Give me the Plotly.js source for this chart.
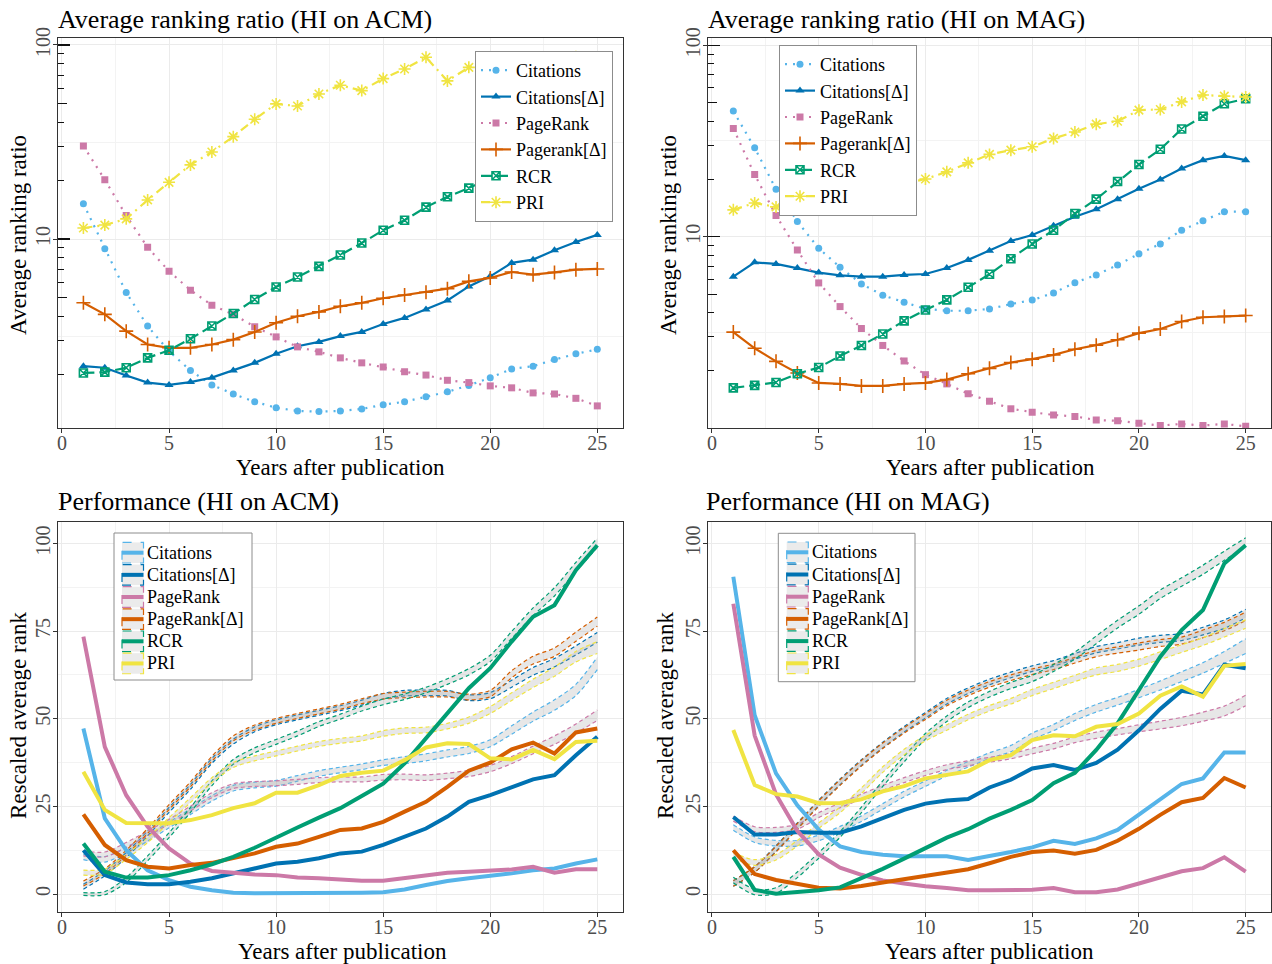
<!DOCTYPE html>
<html>
<head>
<meta charset="utf-8">
<script src="https://cdn.plot.ly/plotly-3.0.1.min.js"></script>
<style>
  html, body { margin: 0; padding: 0; background: #fff; }
  #chart { width: 1272px; height: 964px; }
</style>
</head>
<body>
<div id="chart"></div>
<script>
// ---------------------------------------------------------------
// Data
// ---------------------------------------------------------------
const years = [1,2,3,4,5,6,7,8,9,10,11,12,13,14,15,16,17,18,19,20,21,22,23,24,25];

const ratioNames = ['Citations', 'Citations[Δ]', 'PageRank', 'Pagerank[Δ]', 'RCR', 'PRI'];
const perfNames  = ['Citations', 'Citations[Δ]', 'PageRank', 'PageRank[Δ]', 'RCR', 'PRI'];

// Average ranking ratio, HI on ACM
const acmRatioCitations  = [15.2, 8.9, 5.3, 3.56, 2.64, 2.10, 1.77, 1.59, 1.45, 1.35, 1.30, 1.29, 1.30, 1.33, 1.40, 1.45, 1.54, 1.63, 1.76, 1.93, 2.14, 2.21, 2.39, 2.56, 2.70];
const acmRatioCitationsD = [2.21, 2.17, 1.98, 1.82, 1.77, 1.83, 1.93, 2.10, 2.30, 2.56, 2.80, 2.95, 3.16, 3.32, 3.65, 3.92, 4.33, 4.82, 5.70, 6.42, 7.53, 7.83, 8.75, 9.66, 10.5];
const acmRatioPageRank   = [30.2, 20.2, 13.2, 9.06, 6.82, 5.45, 4.56, 4.09, 3.53, 3.13, 2.78, 2.62, 2.44, 2.30, 2.19, 2.07, 1.99, 1.87, 1.82, 1.75, 1.71, 1.61, 1.59, 1.51, 1.38];
const acmRatioPageRankD  = [4.69, 4.09, 3.35, 2.86, 2.75, 2.75, 2.86, 3.03, 3.32, 3.70, 4.00, 4.21, 4.50, 4.69, 4.95, 5.15, 5.32, 5.55, 6.05, 6.30, 6.76, 6.55, 6.73, 6.95, 7.01];
const acmRatioRCR        = [2.04, 2.06, 2.17, 2.44, 2.67, 3.06, 3.56, 4.13, 4.88, 5.66, 6.37, 7.23, 8.27, 9.53, 11.1, 12.5, 14.6, 16.5, 18.3, 20.6, 23.2, 26.0, 29.1, 32.8, 36.5];
const acmRatioPRI        = [11.4, 11.8, 12.7, 15.9, 19.6, 24.1, 28.1, 33.7, 41.4, 49.7, 48.5, 55.9, 62.0, 58.2, 67.1, 75.2, 86.4, 65.3, 76.7, 80.5, 83.6, 86.0, 82.4, 87.0, 85.1];

// Average ranking ratio, HI on MAG
const magRatioCitations  = [45.3, 29.1, 17.7, 12.0, 8.69, 6.92, 5.66, 4.94, 4.54, 4.19, 4.10, 4.10, 4.19, 4.44, 4.66, 5.08, 5.75, 6.31, 7.11, 8.13, 9.16, 10.8, 12.1, 13.5, 13.5];
const magRatioCitationsD = [6.18, 7.34, 7.20, 6.86, 6.49, 6.28, 6.18, 6.18, 6.31, 6.38, 6.86, 7.56, 8.45, 9.49, 10.2, 11.4, 12.7, 13.9, 15.7, 17.8, 19.9, 22.7, 25.1, 26.4, 25.1];
const magRatioPageRank   = [36.7, 21.1, 12.9, 8.51, 5.73, 4.31, 3.31, 2.70, 2.24, 1.90, 1.70, 1.51, 1.38, 1.26, 1.21, 1.17, 1.15, 1.10, 1.09, 1.06, 1.03, 1.05, 1.03, 1.05, 1.02];
const magRatioPageRankD  = [3.17, 2.61, 2.23, 1.94, 1.72, 1.70, 1.66, 1.66, 1.70, 1.72, 1.79, 1.92, 2.05, 2.20, 2.29, 2.41, 2.58, 2.71, 2.89, 3.13, 3.29, 3.60, 3.79, 3.83, 3.87];
const magRatioRCR        = [1.62, 1.67, 1.73, 1.92, 2.07, 2.38, 2.70, 3.10, 3.63, 4.14, 4.67, 5.44, 6.36, 7.67, 9.16, 10.8, 13.2, 15.7, 19.4, 23.8, 28.6, 36.5, 42.6, 49.5, 52.5];
const magRatioPRI        = [13.8, 15.0, 14.3, 15.4, 15.9, 17.0, 17.4, 17.9, 18.9, 20.0, 21.8, 24.3, 26.9, 28.3, 29.5, 32.6, 35.2, 38.7, 40.1, 45.8, 46.2, 50.6, 55.0, 54.2, 53.7];

// Rescaled average rank, HI on ACM (observed)
const acmPerfCitations  = [47.2, 21.6, 12.5, 6.8, 4.0, 2.1, 1.1, 0.4, 0.2, 0.2, 0.2, 0.2, 0.2, 0.4, 0.5, 1.3, 2.6, 3.7, 4.5, 5.1, 5.9, 6.8, 7.3, 8.7, 9.9];
const acmPerfCitationsD = [12.5, 5.4, 3.3, 2.8, 2.8, 3.5, 4.5, 5.9, 7.3, 8.7, 9.2, 10.2, 11.6, 12.1, 14.0, 16.2, 18.7, 22.1, 26.3, 28.2, 30.6, 32.7, 33.9, 39.6, 44.9];
const acmPerfPageRank   = [73.4, 42.0, 28.2, 19.2, 13.0, 8.7, 6.6, 6.0, 5.6, 5.4, 4.7, 4.5, 4.2, 3.8, 3.8, 4.5, 5.4, 6.1, 6.4, 6.7, 7.0, 7.8, 6.1, 7.1, 7.1];
const acmPerfPageRankD  = [22.7, 14.0, 9.7, 7.8, 7.3, 8.3, 8.9, 10.2, 11.6, 13.5, 14.4, 16.3, 18.3, 18.7, 20.6, 23.5, 26.3, 30.6, 35.2, 37.5, 41.3, 43.2, 40.1, 46.1, 47.2];
const acmPerfRCR        = [14.4, 6.4, 4.7, 4.7, 5.4, 6.8, 8.5, 10.6, 13.2, 16.2, 19.0, 21.8, 24.5, 28.0, 31.5, 37.3, 44.4, 51.5, 58.7, 64.4, 72.0, 79.1, 82.4, 92.4, 99.5];
const acmPerfPRI        = [34.9, 24.0, 20.3, 20.2, 20.2, 21.1, 22.5, 24.5, 25.9, 28.9, 28.9, 31.1, 33.7, 34.6, 35.2, 38.2, 41.8, 43.0, 42.8, 38.7, 38.4, 41.1, 38.5, 43.4, 43.7];

// Rescaled average rank, HI on ACM (null-model band, lower / upper)
const acmBandCitationsLo  = [9.8, 9.1, 11.7, 15.1, 18.9, 22.7, 26.5, 29.4, 30.3, 30.8, 32.2, 33.6, 34.6, 35.5, 36.7, 37.2, 38.0, 39.1, 40.1, 42.0, 45.6, 49.3, 52.4, 56.6, 64.0];
const acmBandCitationsHi  = [11.4, 10.7, 13.3, 16.7, 20.5, 24.3, 28.1, 31.0, 31.9, 32.4, 33.8, 35.2, 36.2, 37.1, 38.3, 39.2, 40.0, 41.1, 42.1, 44.0, 48.0, 51.9, 55.4, 59.8, 67.6];
const acmBandCitationsDLo = [1.4, 5.2, 10.4, 16.6, 23.3, 29.9, 37.3, 42.8, 46.3, 48.3, 49.7, 51.0, 52.3, 53.9, 55.6, 56.5, 56.6, 56.5, 55.2, 55.7, 59.0, 62.4, 64.8, 68.2, 71.8];
const acmBandCitationsDHi = [2.8, 6.6, 11.8, 18.0, 24.7, 31.3, 38.7, 44.2, 47.7, 49.7, 51.1, 52.4, 53.7, 55.3, 57.2, 58.1, 58.2, 58.1, 56.8, 57.5, 61.0, 64.6, 67.2, 70.8, 74.6];
const acmBandPageRankLo   = [10.9, 10.6, 13.3, 16.6, 19.9, 23.7, 27.5, 30.1, 30.7, 30.9, 31.3, 31.8, 32.0, 32.0, 32.5, 32.6, 32.4, 32.9, 33.5, 34.9, 37.2, 40.0, 42.7, 45.9, 49.5];
const acmBandPageRankHi   = [12.3, 12.0, 14.7, 18.0, 21.3, 25.1, 28.9, 31.5, 32.1, 32.3, 32.7, 33.2, 33.4, 33.4, 34.1, 34.2, 34.0, 34.5, 35.3, 36.7, 39.2, 42.2, 45.1, 48.5, 52.5];
const acmBandPageRankDLo  = [2.3, 5.8, 11.1, 17.3, 24.1, 30.6, 37.9, 43.7, 46.8, 48.7, 50.1, 51.4, 52.7, 54.3, 55.6, 56.0, 56.2, 56.2, 55.4, 56.3, 61.7, 65.6, 67.8, 72.1, 76.4];
const acmBandPageRankDHi  = [3.7, 7.2, 12.5, 18.7, 25.5, 32.0, 39.3, 45.1, 48.2, 50.1, 51.5, 52.8, 54.1, 55.7, 57.2, 57.6, 57.8, 57.8, 57.0, 58.1, 63.7, 67.8, 70.2, 74.7, 79.0];
const acmBandRCRLo        = [-0.4, -0.2, 3.3, 9.5, 16.1, 23.3, 30.9, 37.0, 40.3, 42.7, 45.1, 47.8, 49.9, 52.2, 54.0, 55.5, 57.4, 59.8, 62.5, 66.3, 72.9, 79.4, 85.0, 92.0, 98.9];
const acmBandRCRHi        = [0.4, 0.7, 4.7, 10.9, 17.5, 24.7, 32.3, 38.4, 41.7, 44.1, 46.5, 49.2, 51.3, 53.6, 55.6, 57.1, 59.0, 61.4, 64.3, 68.1, 74.9, 81.6, 87.4, 94.6, 101.5];
const acmBandPRILo        = [5.4, 5.7, 9.9, 14.7, 20.4, 26.1, 31.8, 36.1, 38.0, 39.4, 40.8, 42.1, 43.0, 43.7, 45.0, 45.8, 46.0, 47.1, 48.7, 51.5, 55.2, 58.9, 62.1, 66.2, 68.6];
const acmBandPRIHi        = [6.8, 7.1, 11.3, 16.1, 21.8, 27.5, 33.2, 37.5, 39.4, 40.8, 42.2, 43.5, 44.4, 45.1, 46.6, 47.4, 47.6, 48.7, 50.5, 53.5, 57.4, 61.3, 64.7, 69.2, 72.0];

// Rescaled average rank, HI on MAG (observed)
const magPerfCitations  = [90.5, 51.0, 34.4, 25.3, 18.4, 13.6, 12.0, 11.2, 10.8, 10.8, 10.8, 9.7, 10.8, 12.0, 13.3, 15.2, 14.3, 15.9, 18.3, 22.6, 26.8, 31.4, 33.0, 40.4, 40.4];
const magPerfCitationsD = [22.0, 17.0, 17.0, 17.7, 17.5, 17.5, 19.3, 21.6, 24.0, 25.8, 26.7, 27.1, 30.4, 32.6, 35.8, 36.8, 35.4, 37.4, 41.2, 46.7, 52.8, 58.0, 56.9, 65.4, 64.4];
const magPerfPageRank   = [82.8, 45.2, 28.4, 18.0, 11.3, 7.5, 5.5, 3.9, 3.0, 2.2, 1.7, 1.1, 1.1, 1.1, 1.2, 1.7, 0.5, 0.5, 1.3, 3.0, 4.7, 6.5, 7.4, 10.5, 6.4];
const magPerfPageRankD  = [12.5, 5.7, 4.0, 3.0, 1.8, 1.6, 2.3, 3.3, 4.3, 5.2, 6.2, 7.1, 8.8, 10.6, 12.0, 12.4, 11.5, 12.6, 15.2, 18.6, 22.6, 26.2, 27.4, 33.1, 30.4];
const magPerfRCR        = [10.6, 1.2, 0.1, 0.6, 1.1, 1.9, 4.4, 7.2, 10.1, 13.1, 16.1, 18.5, 21.5, 24.0, 26.8, 31.6, 34.6, 41.1, 48.7, 58.2, 67.7, 75.3, 81.0, 94.3, 99.5];
const magPerfPRI        = [46.8, 31.1, 28.5, 27.8, 25.9, 26.0, 27.0, 29.3, 30.8, 33.0, 34.0, 35.0, 38.2, 39.6, 43.9, 45.3, 45.0, 47.7, 48.5, 51.5, 56.6, 59.2, 56.3, 65.1, 65.6];

// Rescaled average rank, HI on MAG (null-model band, lower / upper)
const magBandCitationsLo  = [18.2, 14.7, 13.7, 13.7, 15.2, 17.7, 20.7, 24.2, 27.7, 30.7, 33.7, 36.2, 38.7, 40.6, 44.1, 46.6, 49.5, 51.9, 53.9, 56.0, 58.2, 60.6, 63.0, 65.8, 68.6];
const magBandCitationsHi  = [19.8, 16.3, 15.3, 15.3, 16.8, 19.3, 22.3, 25.8, 29.3, 32.3, 35.3, 37.8, 40.3, 42.4, 45.9, 48.4, 51.5, 54.1, 56.1, 58.4, 60.8, 63.4, 66.0, 69.2, 72.8];
const magBandCitationsDLo = [2.2, 6.2, 12.2, 18.7, 25.2, 31.2, 36.7, 41.7, 46.2, 50.2, 54.2, 57.2, 59.7, 61.7, 63.5, 65.0, 67.0, 68.8, 69.9, 71.0, 71.8, 72.3, 73.9, 75.8, 78.8];
const magBandCitationsDHi = [3.8, 7.8, 13.8, 20.3, 26.8, 32.8, 38.3, 43.3, 47.8, 51.8, 55.8, 58.8, 61.3, 63.3, 65.1, 66.6, 68.6, 70.6, 71.7, 73.0, 73.8, 74.3, 76.1, 78.2, 81.2];
const magBandPageRankLo   = [20.8, 17.8, 17.6, 18.5, 21.8, 24.6, 27.1, 29.6, 31.8, 33.8, 35.5, 36.6, 37.6, 38.6, 40.0, 41.4, 43.2, 44.4, 45.4, 46.3, 47.1, 48.0, 49.3, 50.8, 53.7];
const magBandPageRankHi   = [22.2, 19.2, 19.0, 19.9, 23.2, 26.0, 28.5, 31.0, 33.2, 35.2, 36.9, 38.0, 39.0, 40.0, 41.6, 43.0, 44.8, 46.2, 47.2, 48.3, 49.3, 50.4, 51.9, 53.6, 56.7];
const magBandPageRankDLo  = [2.2, 6.2, 12.0, 18.5, 25.0, 31.0, 36.5, 41.5, 45.9, 49.8, 53.7, 56.6, 59.0, 60.9, 62.6, 64.0, 65.9, 67.7, 68.7, 69.6, 70.6, 71.3, 73.1, 75.1, 78.0];
const magBandPageRankDHi  = [3.8, 7.8, 13.6, 20.1, 26.6, 32.6, 38.1, 43.1, 47.5, 51.4, 55.3, 58.2, 60.6, 62.5, 64.2, 65.6, 67.5, 69.5, 70.5, 71.6, 72.6, 73.3, 75.3, 77.5, 80.4];
const magBandRCRLo        = [3.2, -0.2, 0.2, 4.7, 10.2, 16.2, 23.2, 30.7, 37.7, 44.2, 49.2, 53.2, 56.2, 58.6, 60.6, 63.5, 67.0, 71.4, 75.9, 79.8, 84.3, 87.8, 91.2, 95.2, 99.0];
const magBandRCRHi        = [4.8, 1.4, 1.8, 6.3, 11.8, 17.8, 24.8, 32.3, 39.3, 45.8, 50.8, 54.8, 57.8, 60.4, 62.4, 65.5, 69.0, 73.6, 78.1, 82.2, 86.7, 90.2, 93.8, 97.8, 101.6];
const magBandPRILo        = [10.2, 8.2, 9.7, 13.7, 18.7, 23.2, 28.7, 34.7, 39.7, 43.7, 46.7, 49.7, 52.2, 54.2, 56.6, 58.6, 60.6, 62.5, 63.5, 65.0, 66.9, 68.9, 70.9, 73.3, 75.8];
const magBandPRIHi        = [11.8, 9.8, 11.3, 15.3, 20.3, 24.8, 30.3, 36.3, 41.3, 45.3, 48.3, 51.3, 53.8, 55.8, 58.4, 60.4, 62.4, 64.5, 65.5, 67.0, 69.1, 71.1, 73.1, 75.7, 78.2];

// Axis ticks
const xTicks = [0, 5, 10, 15, 20, 25];
const xMinorTicks = [2.5, 7.5, 12.5, 17.5, 22.5];
const ratioTicks = [10, 100];
const ratioMinorGrid = [3.1623, 31.623];
const logTicksShort = [2, 3, 4, 6, 7, 8, 9, 20, 30, 40, 60, 70, 80, 90];
const logTicksMid = [5, 50];
const perfTicks = [0, 25, 50, 75, 100];
const perfMinorTicks = [12.5, 37.5, 62.5, 87.5];

// ---------------------------------------------------------------
// Styling
// ---------------------------------------------------------------
const FONT = 'Liberation Serif, Times New Roman, serif';
const palette = ['#56B4E9', '#0072B2', '#CC79A7', '#D55E00', '#009E73', '#F0E442'];
const ratioStyle = [
  { dash: '2px,6px',         symbol: 'circle',          size: 7,  open: false },
  { dash: 'solid',           symbol: 'triangle-up',     size: 8,  open: false },
  { dash: '2px,6px',         symbol: 'square',          size: 7,  open: false },
  { dash: 'solid',           symbol: 'cross-thin-open', size: 10, open: true  },
  { dash: '11px,5px',        symbol: 'square-x-open',   size: 8,  open: true  },
  { dash: '9px,5px,2px,5px', symbol: 'asterisk-open',   size: 10, open: true  }
];

const W = 1272, H = 964;
const px = v => v / W;
const py = v => 1 - v / H;

// plot-area boxes in page pixels
const leftX  = [57.7, 623.0];
const rightX = [707.7, 1271.3];
const topY   = [38, 428];
const botY   = [521.7, 912.3];
const dx = b => [px(b[0]), px(b[1])];
const dy = b => [py(b[1]), py(b[0])];

// ---------------------------------------------------------------
// Traces
// ---------------------------------------------------------------
const traces = [];

function addRatio(series, xa, ya, legendId) {
  series.forEach((vals, i) => {
    const st = ratioStyle[i];
    traces.push({
      type: 'scatter', mode: 'lines+markers', name: ratioNames[i],
      x: years, y: vals, xaxis: xa, yaxis: ya, legend: legendId,
      line: { color: palette[i], width: 2.2, dash: st.dash },
      marker: {
        symbol: st.symbol, size: st.size, color: palette[i],
        line: { color: palette[i], width: st.open ? 1.6 : 0 }
      },
      hoverinfo: 'skip'
    });
  });
}

function addPerf(bands, solids, xa, ya) {
  bands.forEach((b, i) => {
    traces.push({
      type: 'scatter', mode: 'lines', x: years, y: b[0], xaxis: xa, yaxis: ya,
      line: { color: palette[i], width: 1.2, dash: '4px,3px', shape: 'spline', smoothing: 0.8 },
      showlegend: false, hoverinfo: 'skip'
    });
    traces.push({
      type: 'scatter', mode: 'lines', x: years, y: b[1], xaxis: xa, yaxis: ya,
      line: { color: palette[i], width: 1.2, dash: '4px,3px', shape: 'spline', smoothing: 0.8 },
      fill: 'tonexty', fillcolor: 'rgba(170,170,170,0.28)',
      showlegend: false, hoverinfo: 'skip'
    });
  });
  solids.forEach((vals, i) => {
    traces.push({
      type: 'scatter', mode: 'lines', name: perfNames[i], x: years, y: vals, xaxis: xa, yaxis: ya,
      line: { color: palette[i], width: 4 },
      showlegend: false, hoverinfo: 'skip'
    });
  });
}

addRatio([acmRatioCitations, acmRatioCitationsD, acmRatioPageRank, acmRatioPageRankD, acmRatioRCR, acmRatioPRI], 'x', 'y', 'legend');
addRatio([magRatioCitations, magRatioCitationsD, magRatioPageRank, magRatioPageRankD, magRatioRCR, magRatioPRI], 'x2', 'y2', 'legend2');

addPerf([
  [acmBandCitationsLo, acmBandCitationsHi], [acmBandCitationsDLo, acmBandCitationsDHi],
  [acmBandPageRankLo, acmBandPageRankHi], [acmBandPageRankDLo, acmBandPageRankDHi],
  [acmBandRCRLo, acmBandRCRHi], [acmBandPRILo, acmBandPRIHi]
], [acmPerfCitations, acmPerfCitationsD, acmPerfPageRank, acmPerfPageRankD, acmPerfRCR, acmPerfPRI], 'x3', 'y3');

addPerf([
  [magBandCitationsLo, magBandCitationsHi], [magBandCitationsDLo, magBandCitationsDHi],
  [magBandPageRankLo, magBandPageRankHi], [magBandPageRankDLo, magBandPageRankDHi],
  [magBandRCRLo, magBandRCRHi], [magBandPRILo, magBandPRIHi]
], [magPerfCitations, magPerfCitationsD, magPerfPageRank, magPerfPageRankD, magPerfRCR, magPerfPRI], 'x4', 'y4');

// empty traces so the log-tick overlay axes get drawn
['y5', 'y6', 'y7', 'y8'].forEach((ya, k) => {
  traces.push({ type: 'scatter', x: [], y: [], xaxis: k % 2 === 0 ? 'x' : 'x2', yaxis: ya,
                showlegend: false, hoverinfo: 'skip' });
});

// ---------------------------------------------------------------
// Axes
// ---------------------------------------------------------------
const tickFont = { family: FONT, size: 20, color: '#4d4d4d' };

function xAxis(domain, anchor) {
  return {
    domain, anchor, range: [-0.2, 26.2], tickmode: 'array', tickvals: xTicks,
    ticks: 'outside', ticklen: 4, tickwidth: 1, tickcolor: '#333', ticklabelstandoff: -7,
    showline: true, mirror: true, linecolor: '#333', linewidth: 1,
    showgrid: true, gridcolor: '#ebebeb', gridwidth: 1, zeroline: false,
    tickfont: tickFont, fixedrange: true,
    minor: { tickmode: 'array', tickvals: xMinorTicks, showgrid: true, gridcolor: '#f3f3f3', gridwidth: 1, ticks: '' }
  };
}

function logAxis(domain, anchor, range) {
  return {
    domain, anchor, type: 'log', range, tickmode: 'array', tickvals: ratioTicks,
    ticktext: ratioTicks.map(String), tickangle: -90,
    ticks: 'outside', ticklen: 4, tickwidth: 1, tickcolor: '#333', ticklabelstandoff: -5,
    showline: true, mirror: true, linecolor: '#333', linewidth: 1,
    showgrid: true, gridcolor: '#ebebeb', gridwidth: 1, zeroline: false,
    tickfont: tickFont, fixedrange: true,
    minor: { tickmode: 'array', tickvals: ratioMinorGrid, showgrid: true, gridcolor: '#f3f3f3', gridwidth: 1, ticks: '' }
  };
}

function logTickOverlay(base, anchor, range, vals, len, minorVals) {
  const ax = {
    overlaying: base, anchor, type: 'log', range, side: 'left',
    tickmode: 'array', tickvals: vals, ticks: 'inside', ticklen: len, tickwidth: 1.1, tickcolor: '#111',
    showticklabels: false, showgrid: false, showline: false, zeroline: false, fixedrange: true
  };
  if (minorVals) {
    ax.minor = { tickmode: 'array', tickvals: minorVals, ticks: 'inside', ticklen: 6, tickwidth: 1, tickcolor: '#111', showgrid: false };
  }
  return ax;
}

function linAxis(domain, anchor) {
  return {
    domain, anchor, range: [-5.2, 106.2], tickmode: 'array', tickvals: perfTicks, tickangle: -90,
    ticks: 'outside', ticklen: 4, tickwidth: 1, tickcolor: '#333', ticklabelstandoff: -5,
    showline: true, mirror: true, linecolor: '#333', linewidth: 1,
    showgrid: true, gridcolor: '#ebebeb', gridwidth: 1, zeroline: false,
    tickfont: tickFont, fixedrange: true,
    minor: { tickmode: 'array', tickvals: perfMinorTicks, showgrid: true, gridcolor: '#f3f3f3', gridwidth: 1, ticks: '' }
  };
}

const rangeACM = [0.026, 2.036];
const rangeMAG = [0.0, 2.038];

// ---------------------------------------------------------------
// Text
// ---------------------------------------------------------------
const annotations = [];
function label(text, x, y, size, opts) {
  annotations.push(Object.assign({
    text, x: px(x), y: py(y), xref: 'paper', yref: 'paper', showarrow: false,
    font: { family: FONT, size, color: '#000' }, xanchor: 'center', yanchor: 'middle'
  }, opts || {}));
}

label('Average ranking ratio (HI on ACM)', 56, 19, 26, { xanchor: 'left' });
label('Average ranking ratio (HI on MAG)', 706, 19, 26, { xanchor: 'left' });
label('Performance (HI on ACM)', 56, 501, 26, { xanchor: 'left' });
label('Performance (HI on MAG)', 704, 501, 26, { xanchor: 'left' });

label('Years after publication', 340, 467, 23);
label('Years after publication', 990, 467, 23);
label('Years after publication', 342, 951, 23);
label('Years after publication', 989, 951, 23);

label('Average ranking ratio', 18, 235, 23, { textangle: -90 });
label('Average ranking ratio', 668, 235, 23, { textangle: -90 });
label('Rescaled average rank', 18, 716, 23, { textangle: -90 });
label('Rescaled average rank', 665, 716, 23, { textangle: -90 });

// ---------------------------------------------------------------
// Legend boxes for the performance panels
// ---------------------------------------------------------------
const shapes = [];
function perfLegend(box, keyX, textX, row0, rowStep) {
  shapes.push({ type: 'rect', xref: 'paper', yref: 'paper',
    x0: px(box[0]), x1: px(box[1]), y0: py(box[3]), y1: py(box[2]),
    line: { color: '#8c8c8c', width: 1 }, fillcolor: '#ffffff', layer: 'above' });
  perfNames.forEach((name, i) => {
    const cy = row0 + rowStep * i;
    shapes.push({ type: 'rect', xref: 'paper', yref: 'paper',
      x0: px(keyX[0]), x1: px(keyX[1]), y0: py(cy + 10.3), y1: py(cy - 10.3),
      line: { color: palette[i], width: 1.2, dash: 'dash' }, fillcolor: '#ebebeb', layer: 'above' });
    shapes.push({ type: 'line', xref: 'paper', yref: 'paper',
      x0: px(keyX[0]), x1: px(keyX[1]), y0: py(cy), y1: py(cy),
      line: { color: palette[i], width: 4 }, layer: 'above' });
    label(name, textX, cy, 18, { xanchor: 'left' });
  });
}
perfLegend([114, 252, 533, 680], [122, 143.5], 145, 552.7, 22.15);
perfLegend([778.3, 915, 533.3, 681.7], [786.7, 808.3], 809.5, 552.3, 22.2);

// ---------------------------------------------------------------
// Layout
// ---------------------------------------------------------------
const legendBase = {
  bgcolor: '#ffffff', bordercolor: '#8c8c8c', borderwidth: 1,
  font: { family: FONT, size: 18, color: '#000' },
  xanchor: 'left', yanchor: 'top', traceorder: 'normal', tracegroupgap: 0, itemwidth: 30
};

const layout = {
  width: W, height: H,
  margin: { l: 0, r: 0, t: 0, b: 0, pad: 0 },
  paper_bgcolor: '#ffffff', plot_bgcolor: '#ffffff',
  font: { family: FONT, color: '#000' },
  showlegend: true,
  legend: Object.assign({}, legendBase, { x: px(475), y: py(51) }),
  legend2: Object.assign({}, legendBase, { x: px(779), y: py(45) }),
  xaxis: xAxis(dx(leftX), 'y'),
  yaxis: logAxis(dy(topY), 'x', rangeACM),
  xaxis2: xAxis(dx(rightX), 'y2'),
  yaxis2: logAxis(dy(topY), 'x2', rangeMAG),
  xaxis3: xAxis(dx(leftX), 'y3'),
  yaxis3: linAxis(dy(botY), 'x3'),
  xaxis4: xAxis(dx(rightX), 'y4'),
  yaxis4: linAxis(dy(botY), 'x4'),
  yaxis5: logTickOverlay('y', 'x', rangeACM, ratioTicks, 12, logTicksShort),
  yaxis6: logTickOverlay('y2', 'x2', rangeMAG, ratioTicks, 12, logTicksShort),
  yaxis7: logTickOverlay('y', 'x', rangeACM, logTicksMid, 9, null),
  yaxis8: logTickOverlay('y2', 'x2', rangeMAG, logTicksMid, 9, null),
  annotations, shapes
};

Plotly.newPlot('chart', traces, layout, { displayModeBar: false, staticPlot: true });
</script>
</body>
</html>
